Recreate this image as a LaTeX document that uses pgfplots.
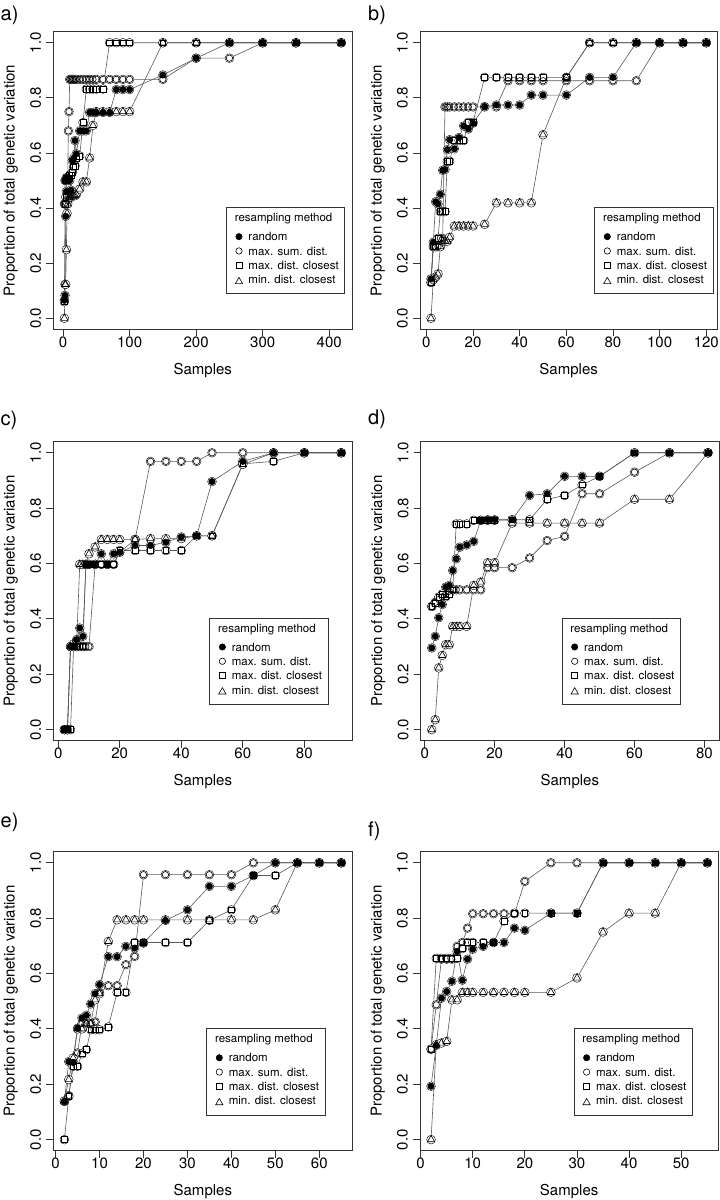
\documentclass[border=0pt]{standalone}
\usepackage{fontspec}
\setmainfont{TeX Gyre Heros}
\usepackage{pgfplots}
\usepackage{pgfplotstable}
\pgfplotsset{compat=1.18}
\definecolor{lg}{gray}{0.35}
\newcommand\tickfont{\fontsize{15}{18}\selectfont}
\newcommand\labfont{\fontsize{15}{18}\selectfont}
\newcommand\legfont{\fontsize{11.5}{13.8}\selectfont}
\newcommand\panfont{\fontsize{20}{24}\selectfont}

\pgfplotstableread{
x r ms mc mi
2 0.065 0.415 0.06 0
3 0.083 0.50 0.415 0.123
4 0.37 0.50 0.44 0.123
5 0.46 0.51 0.50 0.249
6 0.50 0.51 0.51 0.381
7 0.51 0.51 0.50 0.415
8 0.50 0.68 0.51 0.43
9 0.51 0.75 0.51 0.44
10 0.50 0.867 0.52 0.44
12 0.465 0.867 0.52 0.44
14 0.572 0.867 0.53 0.445
16 0.58 0.867 0.55 0.445
18 0.645 0.867 0.553 0.445
20 0.597 0.867 0.58 0.45
25 0.68 0.867 0.589 0.469
30 0.68 0.867 0.71 0.495
35 0.68 0.867 0.832 0.495
40 0.747 0.867 0.832 0.582
45 0.747 0.867 0.832 0.70
50 0.747 0.867 0.832 0.75
60 0.747 0.867 0.832 0.75
70 0.747 0.867 1 0.75
80 0.83 0.867 1 0.75
90 0.83 0.867 1 0.75
100 0.83 0.867 1 0.75
150 0.883 0.867 1 1
200 0.944 0.944 1 1
250 1 0.944 1 1
300 1 1 1 1
350 1 1 1 1
418 1 1 1 1
}\ta

\pgfplotstableread{
x r ms mc mi
2 0.143 0.13 0.13 0
3 0.276 0.26 0.26 0.14
4 0.423 0.26 0.26 0.15
5 0.415 0.26 0.29 0.161
6 0.45 0.29 0.387 0.26
7 0.537 0.29 0.387 0.28
8 0.54 0.767 0.387 0.28
9 0.612 0.767 0.57 0.28
10 0.648 0.767 0.57 0.294
12 0.615 0.767 0.645 0.335
14 0.656 0.767 0.645 0.335
16 0.698 0.767 0.645 0.335
18 0.687 0.767 0.711 0.335
20 0.708 0.767 0.711 0.335
25 0.768 0.767 0.874 0.341
30 0.774 0.767 0.874 0.419
35 0.774 0.862 0.874 0.419
40 0.774 0.862 0.874 0.419
45 0.81 0.862 0.874 0.419
50 0.81 0.862 0.874 0.666
60 0.81 0.862 0.874 0.874
70 0.874 0.862 1 1
80 0.874 0.862 1 1
90 1 0.862 1 1
100 1 1 1 1
110 1 1 1 1
120 1 1 1 1
}\tb

\pgfplotstableread{
x r ms mc mi
2 0 0 0 0
3 0 0 0 0
4 0.30 0.30 0 0.30
5 0.30 0.30 0.30 0.31
6 0.325 0.30 0.30 0.32
7 0.367 0.30 0.30 0.597
8 0.337 0.30 0.30 0.597
9 0.597 0.30 0.597 0.597
10 0.597 0.30 0.597 0.635
12 0.597 0.597 0.597 0.66
14 0.635 0.597 0.597 0.687
16 0.597 0.597 0.597 0.687
18 0.635 0.597 0.597 0.687
20 0.641 0.641 0.647 0.687
25 0.665 0.687 0.647 0.687
30 0.665 0.969 0.647 0.69
35 0.677 0.969 0.647 0.69
40 0.696 0.969 0.647 0.69
45 0.70 0.969 0.70 0.70
50 0.896 1 0.70 0.70
60 0.969 1 0.96 0.958
70 1 1 0.969 1
80 1 1 1 1
92 1 1 1 1
}\tc

\pgfplotstableread{
x r ms mc mi
2 0.295 0.445 0.445 0
3 0.337 0.46 0.457 0.036
4 0.404 0.47 0.479 0.223
5 0.452 0.48 0.49 0.268
6 0.515 0.49 0.48 0.307
7 0.521 0.50 0.49 0.307
8 0.575 0.505 0.505 0.373
9 0.617 0.505 0.743 0.373
10 0.659 0.505 0.743 0.373
12 0.667 0.505 0.743 0.373
14 0.68 0.505 0.756 0.521
16 0.756 0.505 0.756 0.533
18 0.758 0.585 0.756 0.603
20 0.758 0.585 0.756 0.603
25 0.758 0.585 0.758 0.746
30 0.846 0.62 0.758 0.746
35 0.852 0.683 0.832 0.746
40 0.915 0.698 0.846 0.746
45 0.915 0.852 0.884 0.746
50 0.915 0.852 0.915 0.746
60 1 0.930 1 0.832
70 1 1 1 0.832
81 1 1 1 1
}\td

\pgfplotstableread{
x r ms mc mi
2 0.138 0.138 0 0.14
3 0.282 0.159 0.156 0.217
4 0.279 0.279 0.265 0.295
5 0.402 0.313 0.265 0.40
6 0.439 0.419 0.31 0.40
7 0.449 0.419 0.325 0.419
8 0.49 0.419 0.397 0.419
9 0.527 0.425 0.397 0.505
10 0.56 0.53 0.397 0.527
12 0.661 0.556 0.407 0.716
14 0.661 0.556 0.532 0.794
16 0.698 0.632 0.532 0.794
18 0.692 0.662 0.712 0.794
20 0.71 0.957 0.712 0.794
25 0.792 0.957 0.712 0.794
30 0.83 0.957 0.712 0.794
35 0.915 0.957 0.792 0.794
40 0.915 0.957 0.83 0.794
45 0.954 1 0.954 0.794
50 1 1 0.954 0.83
55 1 1 1 1
60 1 1 1 1
65 1 1 1 1
}\te

\pgfplotstableread{
x r ms mc mi
2 0.193 0.327 0.327 0
3 0.341 0.487 0.655 0.343
4 0.511 0.652 0.655 0.349
5 0.535 0.652 0.655 0.355
6 0.572 0.652 0.655 0.505
7 0.68 0.698 0.655 0.505
8 0.576 0.712 0.69 0.532
9 0.652 0.764 0.712 0.532
10 0.688 0.816 0.712 0.532
12 0.698 0.816 0.712 0.532
14 0.712 0.816 0.712 0.532
16 0.712 0.816 0.79 0.532
18 0.764 0.816 0.818 0.532
20 0.756 0.933 0.818 0.532
25 0.818 1 0.818 0.532
30 0.818 1 0.818 0.584
35 1 1 1 0.75
40 1 1 1 0.818
45 1 1 1 0.818
50 1 1 1 1
55 1 1 1 1
}\tf

\pgfplotsset{
 panel/.style={
  scale only axis,
  axis line style={black!80, line width=0.8pt},
  tick align=outside, xtick pos=bottom, ytick pos=left,
  major tick length=7pt,
  every tick/.style={black!80, line width=0.8pt},
  ymin=-0.04, ymax=1.04,
  ytick={0,0.2,0.4,0.6,0.8,1},
  yticklabels={0.0,0.2,0.4,0.6,0.8,1.0},
  yticklabel style={rotate=90, anchor=south, inner sep=0pt, font=\tickfont},
  yticklabel shift=5pt,
  xticklabel style={anchor=north, inner sep=0pt, font=\tickfont},
  /pgf/number format/assume math mode=true,
  ylabel={Proportion of total genetic variation},
  xlabel={Samples},
  ylabel style={at={(axis description cs:-0.142,0.5)}, anchor=center, font=\labfont},
  xlabel style={at={(axis description cs:0.5,-0.138)}, anchor=center, font=\labfont},
  legend style={draw=black!80, line width=0.6pt, fill=white, font=\legfont,
    anchor=south east, inner xsep=3pt, inner ysep=3pt, row sep=0pt, column sep=0pt,
    nodes={inner sep=3pt, text height=8.3pt, text depth=0pt},
    cells={anchor=west}},
  legend cell align=left,
  legend image code/.code={\path (-9.5pt,0pt) (6.2pt,0pt); \draw[#1] plot coordinates {(0pt,0pt)};},
 },
 lnp/.style={forget plot, lg, line width=0.6pt, mark=none},
 gap/.style={forget plot, only marks, mark=*, mark size=4.4pt, mark options={draw=none, fill=white}},
 mr/.style={only marks, mark=*, mark size=3.2pt, mark options={draw=black, fill=black, line width=0.5pt}},
 mo/.style={only marks, mark=o, mark size=3.2pt, mark options={draw=black, line width=0.6pt}},
 msq/.style={only marks, mark=square, mark size=2.9pt, mark options={draw=black, line width=0.6pt}},
 mtr/.style={only marks, mark=triangle, mark size=4.2pt, mark options={draw=black, line width=0.6pt}},
}

\newcommand\allplots[1]{%
 \addplot[lnp] table[x=x,y=r]{#1};
 \addplot[lnp] table[x=x,y=ms]{#1};
 \addplot[lnp] table[x=x,y=mc]{#1};
 \addplot[lnp] table[x=x,y=mi]{#1};
 \addplot[gap] table[x=x,y=r]{#1};
 \addplot[gap] table[x=x,y=ms]{#1};
 \addplot[gap] table[x=x,y=mc]{#1};
 \addplot[gap] table[x=x,y=mi]{#1};
 \addlegendimage{empty legend}\addlegendentry[text depth=4.7pt]{\hspace*{-13.7pt}resampling method}
 \addplot[mr] table[x=x,y=r]{#1}; \addlegendentry{random}
 \addplot[mo] table[x=x,y=ms]{#1}; \addlegendentry{max. sum. dist.}
 \addplot[msq] table[x=x,y=mc]{#1}; \addlegendentry{max. dist. closest}
 \addplot[mtr] table[x=x,y=mi]{#1}; \addlegendentry[text depth=4pt]{min. dist. closest}
}

\begin{document}
\begin{tikzpicture}
\useasboundingbox (0,0) rectangle (720pt,-1200pt);

\begin{axis}[panel, at={(53.3pt,-31.7pt)}, anchor=north west, width=299pt, height=297.6pt,
  xmin=-14.64, xmax=434.64, xtick={0,100,200,300,400},
  legend style={at={(0.9756,0.1186)}}]
\allplots{\ta}
\end{axis}

\begin{axis}[panel, at={(420pt,-31.7pt)}, anchor=north west, width=297.3pt, height=297.6pt,
  xmin=-2.72, xmax=124.72, xtick={0,20,40,60,80,100,120},
  legend style={at={(0.9866,0.1186)}}]
\allplots{\tb}
\end{axis}

\begin{axis}[panel, at={(53.3pt,-441.7pt)}, anchor=north west, width=299pt, height=299pt,
  xmin=-1.6, xmax=95.6, xtick={0,20,40,60,80},
  legend style={at={(0.92,0.1217)}}]
\allplots{\tc}
\end{axis}

\begin{axis}[panel, at={(420.7pt,-441.7pt)}, anchor=north west, width=298.3pt, height=299pt,
  xmin=-1.16, xmax=84.16, xtick={0,20,40,60,80},
  legend style={at={(0.8716,0.1217)}}]
\allplots{\td}
\end{axis}

\begin{axis}[panel, at={(53.3pt,-851.7pt)}, anchor=north west, width=299pt, height=299pt,
  xmin=-0.52, xmax=67.52, xtick={0,10,20,30,40,50,60},
  legend style={at={(0.9097,0.119)}}]
\allplots{\te}
\end{axis}

\begin{axis}[panel, at={(420pt,-851.7pt)}, anchor=north west, width=298.3pt, height=299pt,
  xmin=-0.12, xmax=57.12, xtick={0,10,20,30,40,50},
  legend style={at={(0.914,0.119)}}]
\allplots{\tf}
\end{axis}

\node[anchor=base west, font=\panfont, inner sep=0pt] at (0.5pt,-20pt) {a)};
\node[anchor=base west, font=\panfont, inner sep=0pt] at (368pt,-20pt) {b)};
\node[anchor=base west, font=\panfont, inner sep=0pt] at (0.5pt,-425pt) {c)};
\node[anchor=base west, font=\panfont, inner sep=0pt] at (368pt,-424pt) {d)};
\node[anchor=base west, font=\panfont, inner sep=0pt] at (0.5pt,-827pt) {e)};
\node[anchor=base west, font=\panfont, inner sep=0pt] at (368pt,-836pt) {f)};
\end{tikzpicture}
\end{document}
